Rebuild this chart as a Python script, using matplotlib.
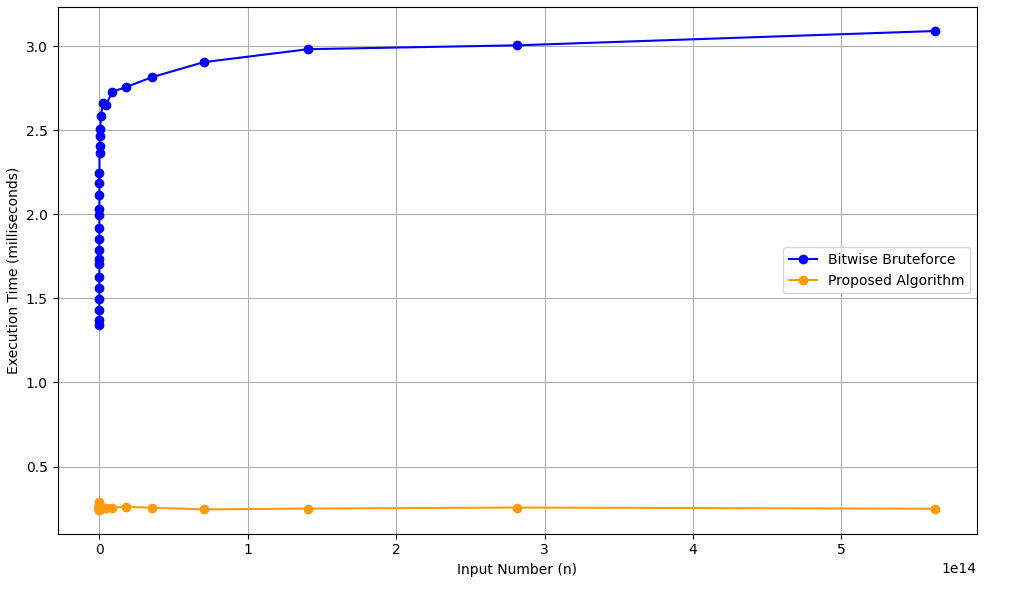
import numpy as np
import matplotlib
matplotlib.use("Agg")
import matplotlib.pyplot as plt

# inputs n = 2^20 ... 2^49
n_values = [2 ** k for k in range(20, 50)]

brute_ms = [1.341, 1.373, 1.432, 1.496, 1.559, 1.626, 1.705, 1.737, 1.789, 1.852,
            1.919, 1.995, 2.034, 2.113, 2.185, 2.244, 2.366, 2.406, 2.465, 2.505,
            2.584, 2.660, 2.650, 2.730, 2.755, 2.815, 2.905, 2.982, 3.005, 3.090]

proposed_ms = [0.245, 0.250, 0.290, 0.262, 0.255, 0.248, 0.270, 0.243, 0.258, 0.250,
               0.246, 0.262, 0.252, 0.244, 0.255, 0.268, 0.249, 0.257, 0.247, 0.253,
               0.260, 0.255, 0.252, 0.256, 0.260, 0.255, 0.245, 0.250, 0.256, 0.249]

fig = plt.figure(figsize=(10.11, 5.91), dpi=100)
plt.plot(n_values, brute_ms, marker="o", color="blue", label="Bitwise Bruteforce")
plt.plot(n_values, proposed_ms, marker="o", color="#ff9b0d", label="Proposed Algorithm")

plt.xlabel("Input Number (n)")
plt.ylabel("Execution Time (milliseconds)")
plt.legend(loc="center right")
plt.grid(True)

plt.subplots_adjust(left=0.057, right=0.966, top=0.988, bottom=0.097)
plt.savefig("out.png", dpi=100)
plt.close()
